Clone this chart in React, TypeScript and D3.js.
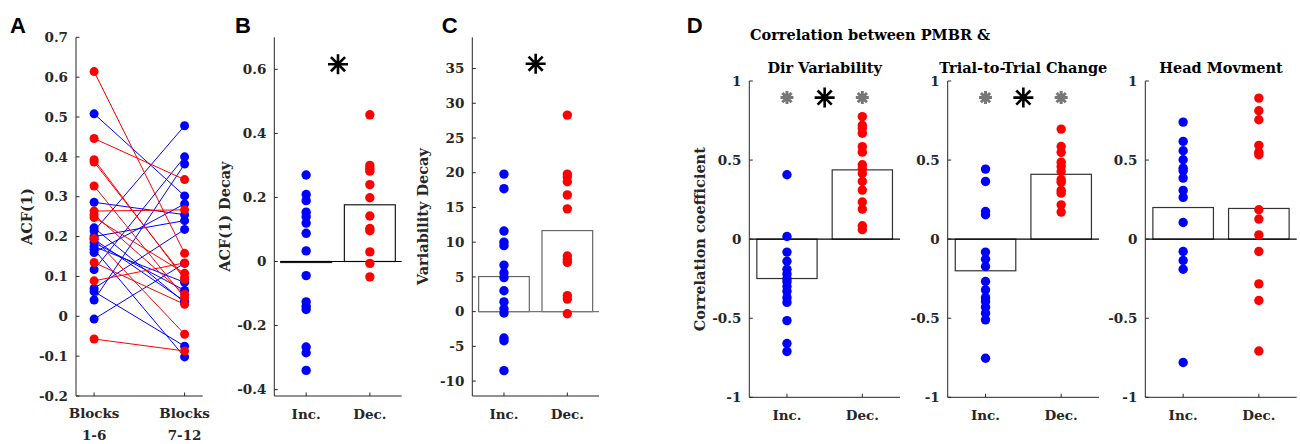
import React from "react"
import * as d3 from "d3"

const SERIF = "'DejaVu Serif', 'Liberation Serif', serif"
const SANS = "'Liberation Sans', Arial, sans-serif"
const AXIS = "#262626"
const BLUE = "#0000ff"
const RED = "#ff0000"

// A: ACF(1) per subject, blocks 1-6 vs 7-12 (pairs by index)
const blockLabels = [["Blocks", "1-6"], ["Blocks", "7-12"]]
const acfIncEarly = [0.508, 0.286, 0.041, 0.117, 0.214, 0.07, 0.16, -0.007, 0.062, 0.168, 0.222, 0.193, 0.185, 0.175, 0.2]
const acfIncLate = [0.302, 0.255, 0.382, 0.4, 0.478, 0.218, 0.282, 0.133, -0.075, -0.102, 0.035, 0.038, 0.065, 0.085, 0.24]
const acfDecEarly = [0.614, 0.446, 0.393, 0.387, 0.327, 0.264, 0.255, 0.248, 0.195, 0.135, 0.089, -0.057]
const acfDecLate = [0.158, 0.343, 0.093, 0.097, 0.047, 0.267, 0.055, 0.108, -0.045, 0.03, 0.134, -0.087]
const acfTicks = [-0.2, -0.1, 0, 0.1, 0.2, 0.3, 0.4, 0.5, 0.6, 0.7]

const groups = ["Inc.", "Dec."]

// B: ACF(1) decay
const acfDecayInc = [0.27, 0.209, 0.19, 0.154, 0.14, 0.12, 0.088, 0.033, -0.044, -0.126, -0.14, -0.15, -0.267, -0.285, -0.34]
const acfDecayDec = [0.458, 0.3, 0.29, 0.282, 0.24, 0.199, 0.142, 0.103, 0.096, 0.03, -0.006, -0.048]
const acfDecayMeans = [-0.003, 0.177]
const acfDecayTicks = [-0.4, -0.2, 0, 0.2, 0.4, 0.6]

// C: variability decay
const varDecayInc = [19.8, 17.7, 11.6, 10.0, 9.5, 6.7, 5.6, 4.9, 3.0, 1.4, 0.4, -0.2, -3.8, -4.2, -8.5]
const varDecayDec = [28.3, 19.8, 19.4, 18.7, 16.8, 14.8, 8.0, 7.5, 7.1, 2.3, 1.8, -0.3]
const varDecayMeans = [5.05, 11.67]
const varDecayTicks = [-10, -5, 0, 5, 10, 15, 20, 25, 30, 35]

// D: correlation between PMBR & ...
const corrTitles = ["Dir Variability", "Trial-to-Trial Change", "Head Movment"]
const corrDirInc = [0.407, 0.017, -0.082, -0.14, -0.19, -0.22, -0.25, -0.27, -0.3, -0.33, -0.37, -0.4, -0.515, -0.66, -0.71]
const corrDirDec = [0.775, 0.72, 0.7, 0.67, 0.585, 0.55, 0.47, 0.445, 0.415, 0.365, 0.31, 0.235, 0.19, 0.085, 0.06]
const corrDirMeans = [-0.249, 0.438]
const corrTrialInc = [0.443, 0.365, 0.175, 0.154, -0.082, -0.127, -0.173, -0.268, -0.321, -0.37, -0.395, -0.43, -0.468, -0.51, -0.753]
const corrTrialDec = [0.696, 0.586, 0.549, 0.487, 0.46, 0.428, 0.376, 0.359, 0.308, 0.291, 0.217, 0.171]
const corrTrialMeans = [-0.2, 0.41]
const corrHeadInc = [0.74, 0.618, 0.559, 0.502, 0.449, 0.432, 0.386, 0.308, 0.264, 0.105, -0.078, -0.135, -0.19, -0.78]
const corrHeadDec = [0.892, 0.812, 0.755, 0.593, 0.55, 0.534, 0.186, 0.127, 0.027, -0.078, -0.283, -0.388, -0.707]
const corrHeadMeans = [0.2, 0.194]
const corrTicks = [-1, -0.5, 0, 0.5, 1]

const starB = 0.616
const starC = 35.7
const starD = 0.895

function Star({ cx, cy, r, color, w }: { cx: number; cy: number; r: number; color: string; w: number }) {
  const d = r * Math.SQRT1_2
  const p = `M${cx - r},${cy}L${cx + r},${cy}M${cx},${cy - r}L${cx},${cy + r}M${cx - d},${cy - d}L${cx + d},${cy + d}M${cx - d},${cy + d}L${cx + d},${cy - d}`
  return <path d={p} stroke={color} strokeWidth={w} fill="none" />
}

function YAxis({ y, ticks, x0, x1, label }: any) {
  const [b, t] = y.range()
  return (
    <g>
      <line x1={x0} x2={x0} y1={t} y2={b} stroke={AXIS} />
      <line x1={x0} x2={x1} y1={b} y2={b} stroke={AXIS} />
      {ticks.map((v: number) => (
        <g key={v}>
          <line x1={x0} x2={x0 + 3.5} y1={y(v)} y2={y(v)} stroke={AXIS} />
          <text x={x0 - 8} y={y(v)} dy="0.35em" textAnchor="end" fontFamily={SERIF} fontWeight="bold" fontSize={13.5} fill={AXIS}>
            {String(v)}
          </text>
        </g>
      ))}
      <text transform={`translate(${x0 - 49},${(t + b) / 2}) rotate(-90)`} textAnchor="middle" dy="0.35em" fontFamily={SERIF} fontWeight="bold" fontSize={14.5} fill={AXIS}>
        {label}
      </text>
    </g>
  )
}

function BarDotPanel(props: any) {
  const { x0, x1, top, bottom, domain, ticks, inc, dec, means, barStroke, baseStroke, fullBase, star, groupStars, label } = props
  const x = d3.scaleLinear().domain([0.5, 2.5]).range([x0, x1])
  const y = d3.scaleLinear().domain(domain).range([bottom, top])
  const bw = x(1.4) - x(1)
  return (
    <g>
      {means.map((m: number, i: number) => (
        <rect key={i} x={x(i + 1) - bw} width={bw * 2} y={y(Math.max(0, m))} height={Math.max(1, Math.abs(y(m) - y(0)))}
          fill="#fff" stroke={barStroke} strokeWidth={1.2} />
      ))}
      <line x1={fullBase ? x0 : x(0.6)} x2={x1} y1={y(0)} y2={y(0)} stroke={baseStroke} strokeWidth={1.2} />
      {inc.map((v: number, i: number) => <circle key={"i" + i} cx={x(1)} cy={y(v)} r={4.7} fill={BLUE} />)}
      {dec.map((v: number, i: number) => <circle key={"d" + i} cx={x(2)} cy={y(v)} r={4.7} fill={RED} />)}
      <YAxis y={y} ticks={ticks} x0={x0} x1={x1} label={label} />
      {groups.map((g, i) => (
        <g key={g}>
          <line x1={x(i + 1)} x2={x(i + 1)} y1={bottom} y2={bottom - 3.5} stroke={AXIS} />
          <text x={x(i + 1)} y={bottom + 23} textAnchor="middle" fontFamily={SERIF} fontWeight="bold" fontSize={13.5} fill={AXIS}>{g}</text>
        </g>
      ))}
      {star != null && <Star cx={x(1.5)} cy={y(star)} r={10} color="#000" w={2.6} />}
      {star != null && groupStars && [1, 2].map((c) => <Star key={c} cx={x(c)} cy={y(star)} r={6.5} color="#777" w={3} />)}
    </g>
  )
}

function PanelA() {
  const x = d3.scaleLinear().domain([0.8, 2.2]).range([76, 202.7])
  const y = d3.scaleLinear().domain([-0.2, 0.7]).range([396, 37.3])
  const pairs = [
    ...acfIncEarly.map((v, i) => ({ a: v, b: acfIncLate[i], c: BLUE })),
    ...acfDecEarly.map((v, i) => ({ a: v, b: acfDecLate[i], c: RED })),
  ]
  return (
    <g>
      {pairs.map((p, i) => <line key={"l" + i} x1={x(1)} x2={x(2)} y1={y(p.a)} y2={y(p.b)} stroke={p.c} strokeWidth={1} />)}
      {pairs.map((p, i) => (
        <g key={"p" + i}>
          <circle cx={x(1)} cy={y(p.a)} r={4.5} fill={p.c} />
          <circle cx={x(2)} cy={y(p.b)} r={4.5} fill={p.c} />
        </g>
      ))}
      <YAxis y={y} ticks={acfTicks} x0={76} x1={202.7} label="ACF(1)" />
      {blockLabels.map((l, i) => (
        <g key={i}>
          <line x1={x(i + 1)} x2={x(i + 1)} y1={396} y2={392.5} stroke={AXIS} />
          <text x={x(i + 1)} textAnchor="middle" fontFamily={SERIF} fontWeight="bold" fontSize={13.5} fill={AXIS}>
            <tspan x={x(i + 1)} y={418}>{l[0]}</tspan>
            <tspan x={x(i + 1)} y={440}>{l[1]}</tspan>
          </text>
        </g>
      ))}
    </g>
  )
}

const Letter = ({ x, t }: { x: number; t: string }) => (
  <text x={x} y={33} fontFamily={SANS} fontWeight="bold" fontSize={22} fill="#000">{t}</text>
)

export default function App() {
  const dPanels = [
    { x0: 749.3, x1: 900, inc: corrDirInc, dec: corrDirDec, means: corrDirMeans, star: starD, label: "Correlation coefficient" },
    { x0: 947.7, x1: 1099, inc: corrTrialInc, dec: corrTrialDec, means: corrTrialMeans, star: starD, label: "" },
    { x0: 1145.3, x1: 1296.7, inc: corrHeadInc, dec: corrHeadDec, means: corrHeadMeans, star: null, label: "" },
  ]
  return (
    <svg width={1300} height={444} style={{ position: "absolute", left: 0, top: 0, background: "#fff" }}>
      <Letter x={10} t="A" />
      <Letter x={235} t="B" />
      <Letter x={441.7} t="C" />
      <Letter x={686.7} t="D" />
      <PanelA />
      <BarDotPanel x0={274.3} x1={401.7} top={37.3} bottom={396} domain={[-0.42, 0.7]} ticks={acfDecayTicks}
        inc={acfDecayInc} dec={acfDecayDec} means={acfDecayMeans} barStroke="#1a1a1a" baseStroke="#000"
        star={starB} label="ACF(1) Decay" />
      <BarDotPanel x0={472.3} x1={599} top={37.3} bottom={396} domain={[-12.15, 39.5]} ticks={varDecayTicks}
        inc={varDecayInc} dec={varDecayDec} means={varDecayMeans} barStroke="#666" baseStroke="#777"
        star={starC} label="Variability Decay" />
      <text x={750} y={40} fontFamily={SERIF} fontWeight="bold" fontSize={14.5} fill="#000">Correlation between PMBR &amp;</text>
      {dPanels.map((p, i) => (
        <g key={i}>
          <text x={(p.x0 + p.x1) / 2} y={72.5} textAnchor="middle" fontFamily={SERIF} fontWeight="bold" fontSize={14.5} fill="#000">
            {corrTitles[i]}
          </text>
          <BarDotPanel x0={p.x0} x1={p.x1} top={81} bottom={397.3} domain={[-1, 1]} ticks={corrTicks}
            inc={p.inc} dec={p.dec} means={p.means} barStroke="#333" baseStroke="#000" fullBase
            star={p.star} groupStars label={p.label} />
        </g>
      ))}
    </svg>
  )
}
